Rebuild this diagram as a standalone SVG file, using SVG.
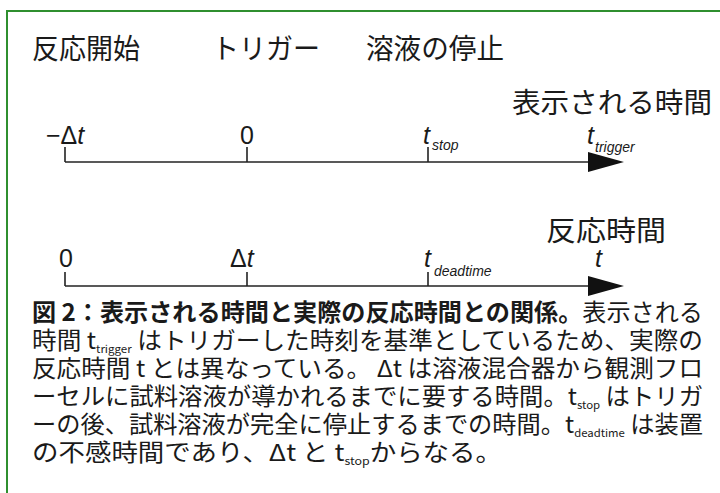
<svg xmlns="http://www.w3.org/2000/svg" width="720" height="493" viewBox="0 0 720 493">
<style>
.jp{font-family:"Noto Sans CJK JP","Noto Sans",sans-serif;fill:#1a1a1a}
.lbl{font-size:28px}
.ax{font-family:"Liberation Sans",Arial,sans-serif;font-size:25px;fill:#1a1a1a}
.it{font-style:italic}
.sub{font-family:"Liberation Sans",Arial,sans-serif;font-style:italic;font-size:14px;fill:#1a1a1a}
.cap{font-size:23.5px}
.cs{font-size:11px}
.axis{stroke:#222;stroke-width:1.6;fill:none}
.head{fill:#111}
</style>
<rect x="7" y="11" width="730" height="500" fill="#fff" stroke="#2f8f2f" stroke-width="2"/>
<g id="labels-top">
<text class="jp lbl" x="32" y="59" textLength="108" lengthAdjust="spacingAndGlyphs">反応開始</text>
<text class="jp lbl" x="212" y="59" textLength="108" lengthAdjust="spacingAndGlyphs">トリガー</text>
<text class="jp lbl" x="366" y="59" textLength="138" lengthAdjust="spacingAndGlyphs">溶液の停止</text>
</g>
<g id="connectors">
<line class="axis" x1="65" y1="162" x2="592" y2="162"/>
<line class="axis" x1="65" y1="147" x2="65" y2="162"/>
<line class="axis" x1="247" y1="147" x2="247" y2="162"/>
<line class="axis" x1="428" y1="147" x2="428" y2="162"/>
<polygon class="head" points="624,162 588,152 588,172"/>
<line class="axis" x1="65" y1="286" x2="592" y2="286"/>
<line class="axis" x1="65" y1="272" x2="65" y2="286"/>
<line class="axis" x1="247" y1="272" x2="247" y2="286"/>
<line class="axis" x1="428" y1="272" x2="428" y2="286"/>
<polygon class="head" points="624,286 588,276 588,296"/>
</g>
<g id="axis-displayed">
<text class="jp lbl" x="712" y="113" text-anchor="end" textLength="200" lengthAdjust="spacingAndGlyphs">表示される時間</text>
<text class="ax" x="46" y="144">−Δ<tspan class="it">t</tspan></text>
<text class="ax" x="247" y="144" text-anchor="middle">0</text>
<text class="ax it" x="423" y="144">t</text><text class="sub" x="432" y="150">stop</text>
<text class="ax it" x="587" y="144">t</text><text class="sub" x="595" y="152">trigger</text>
</g>
<g id="axis-reaction">
<text class="jp lbl" x="666" y="241" text-anchor="end" textLength="120" lengthAdjust="spacingAndGlyphs">反応時間</text>
<text class="ax" x="66" y="267" text-anchor="middle">0</text>
<text class="ax" x="230" y="267">Δ<tspan class="it">t</tspan></text>
<text class="ax it" x="424" y="267">t</text><text class="sub" x="434" y="276">deadtime</text>
<text class="ax it" x="595" y="267">t</text>
</g>
<g id="caption">
<text class="jp cap" x="32" y="321" textLength="671" lengthAdjust="spacingAndGlyphs"><tspan font-weight="bold">図 2：表示される時間と実際の反応時間との関係。</tspan>表示される</text>
<text class="jp cap" x="32" y="349" textLength="671" lengthAdjust="spacingAndGlyphs">時間 t<tspan class="cs" dy="4">trigger</tspan><tspan dy="-4"> はトリガーした時刻を基準としているため、実際の</tspan></text>
<text class="jp cap" x="32" y="377" textLength="671" lengthAdjust="spacingAndGlyphs">反応時間 t とは異なっている。 Δt は溶液混合器から観測フロ</text>
<text class="jp cap" x="32" y="405" textLength="671" lengthAdjust="spacingAndGlyphs">ーセルに試料溶液が導かれるまでに要する時間。t<tspan class="cs" dy="4">stop</tspan><tspan dy="-4"> はトリガ</tspan></text>
<text class="jp cap" x="32" y="433" textLength="671" lengthAdjust="spacingAndGlyphs">ーの後、試料溶液が完全に停止するまでの時間。t<tspan class="cs" dy="4">deadtime</tspan><tspan dy="-4"> は装置</tspan></text>
<text class="jp cap" x="32" y="461" textLength="470" lengthAdjust="spacingAndGlyphs">の不感時間であり、Δt と t<tspan class="cs" dy="4">stop</tspan><tspan dy="-4">からなる。</tspan></text>
</g>
</svg>
